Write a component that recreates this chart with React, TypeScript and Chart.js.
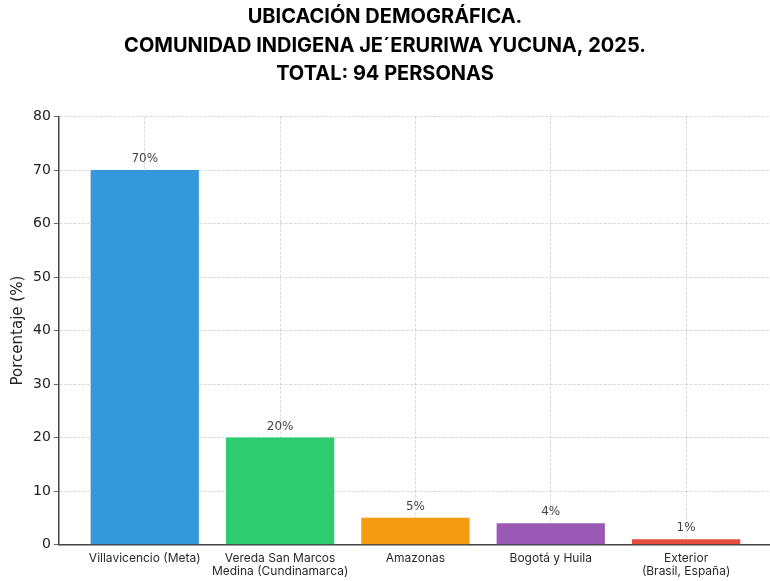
import React, { useEffect, useRef } from "react";
import { Chart, registerables } from "chart.js";

Chart.register(...registerables);

const titleLines = [
  "UBICACIÓN DEMOGRÁFICA.",
  "COMUNIDAD INDIGENA JE´ERURIWA YUCUNA, 2025.",
  "TOTAL: 94 PERSONAS",
];
const categories: (string | string[])[] = [
  "Villavicencio (Meta)",
  ["Vereda San Marcos", "Medina (Cundinamarca)"],
  "Amazonas",
  "Bogotá y Huila",
  ["Exterior", "(Brasil, España)"],
];
const values = [70, 20, 5, 4, 1];
const valueLabels = ["70%", "20%", "5%", "4%", "1%"];
const barColors = ["#3498db", "#2ecc71", "#f39c12", "#9b59b6", "#e74c3c"];
const yAxisTitle = "Porcentaje (%)";
const yMin = 0;
const yMax = 80;
const yStep = 10;

const valueLabelPlugin = {
  id: "valueLabelPlugin",
  afterDraw(chart: any) {
    const ctx = chart.ctx;
    const meta = chart.getDatasetMeta(0);
    ctx.save();
    ctx.font = "12px 'DejaVu Sans'";
    ctx.fillStyle = "#444444";
    ctx.textAlign = "center";
    ctx.textBaseline = "bottom";
    meta.data.forEach((bar: any, i: number) => {
      ctx.fillText(valueLabels[i], bar.x, bar.y - 5);
    });
    ctx.restore();
  },
};

export default function App() {
  const canvasRef = useRef<HTMLCanvasElement | null>(null);

  useEffect(() => {
    document.body.style.margin = "0";
    const canvas = canvasRef.current;
    if (!canvas) return;
    const gridColor = "rgba(170,170,170,0.55)";
    const chart = new Chart(canvas, {
      type: "bar",
      data: {
        datasets: [
          {
            data: values.map((v, i) => ({ x: i, y: v })),
            backgroundColor: barColors,
            borderWidth: 0,
            barPercentage: 0.8,
            categoryPercentage: 1,
          },
        ],
      },
      plugins: [valueLabelPlugin],
      options: {
        responsive: false,
        animation: false,
        layout: { padding: { left: 0, right: 0, top: 0, bottom: -4 } },
        plugins: {
          legend: { display: false },
          tooltip: { enabled: false },
          title: {
            display: true,
            text: titleLines,
            color: "#000000",
            font: { family: "Inter", size: 20, weight: "bold", lineHeight: 1.425 },
            padding: { top: 3, bottom: 28 },
          },
        },
        scales: {
          x: {
            type: "linear",
            min: -0.635,
            max: 4.62,
            offset: false,
            z: 1,
            afterBuildTicks: (scale: any) => {
              scale.ticks = categories.map((_, i) => ({ value: i }));
            },
            ticks: {
              autoSkip: false,
              maxRotation: 0,
              padding: 7,
              color: "#2a2a2a",
              font: { family: "Inter", size: 12, lineHeight: 1.1 },
              callback: (v: any) => categories[v as number],
            },
            grid: {
              offset: false,
              color: gridColor,
              lineWidth: 0.8,
              drawTicks: false,
            },
            border: { display: true, color: "#444444", width: 1.5, dash: [3, 1.5] },
          },
          y: {
            min: yMin,
            max: yMax,
            z: 1,
            ticks: {
              stepSize: yStep,
              padding: 3,
              color: "#222222",
              font: { family: "DejaVu Sans", size: 14 },
            },
            grid: {
              color: gridColor,
              lineWidth: 0.8,
              drawTicks: true,
              tickLength: 5,
              tickColor: "#444444",
              tickBorderDash: [],
            },
            border: { display: true, color: "#444444", width: 1.5, dash: [3, 1.5] },
            title: {
              display: true,
              text: yAxisTitle,
              color: "#222222",
              font: { family: "DejaVu Sans", size: 15, lineHeight: 1.2 },
              padding: { top: 9, bottom: 3 },
            },
          },
        },
      } as any,
    });
    return () => chart.destroy();
  }, []);

  return (
    <div style={{ width: 770, height: 581, background: "#ffffff" }}>
      <canvas ref={canvasRef} width={770} height={581} />
    </div>
  );
}
